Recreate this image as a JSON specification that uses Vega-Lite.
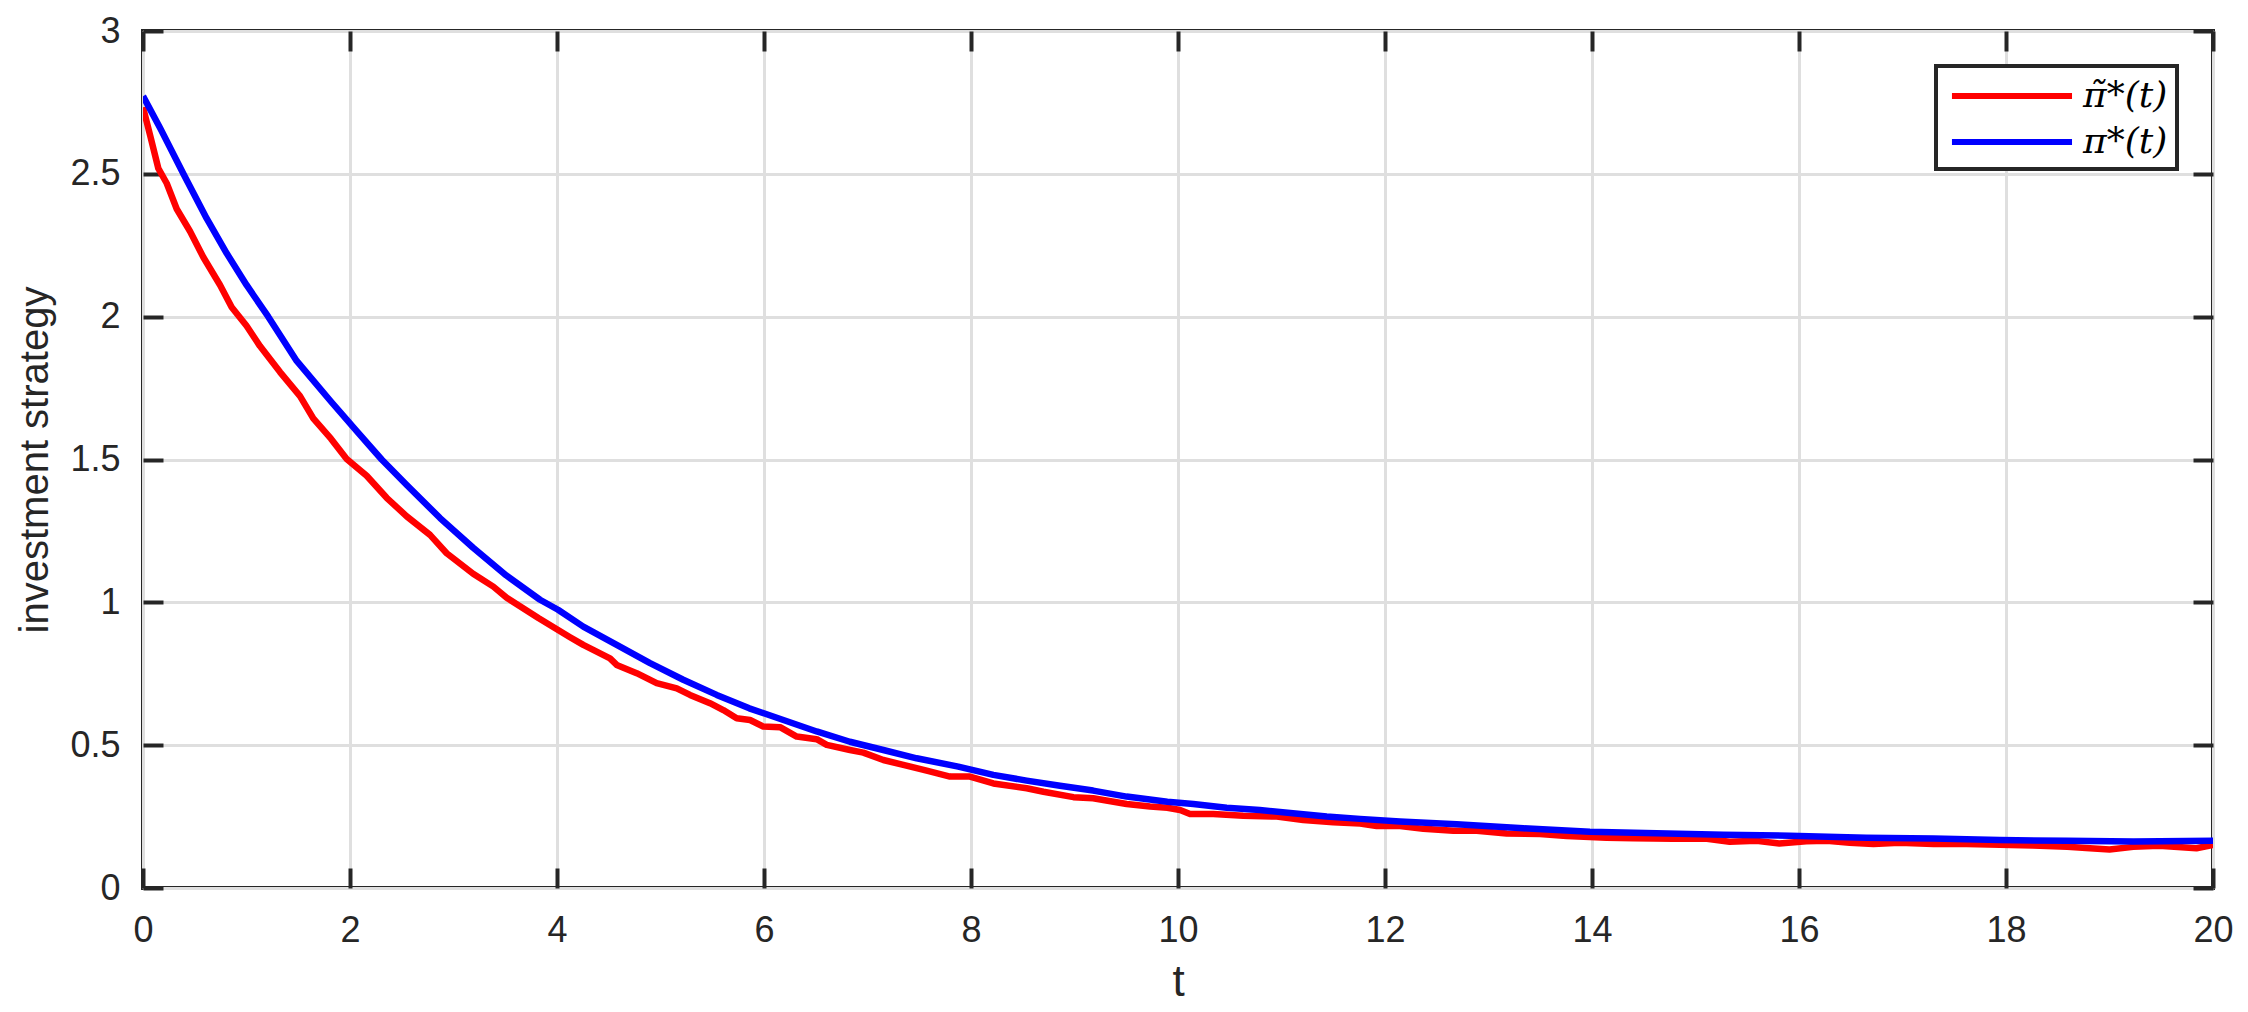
{
  "$schema": "https://vega.github.io/schema/vega-lite/v6.json",
  "width": 2070,
  "height": 857,
  "autosize": {"type": "none"},
  "padding": {"left": 143, "top": 31, "right": 35, "bottom": 124},
  "background": "white",
  "config": {
    "view": {"stroke": "#262626", "strokeWidth": 4},
    "axis": {
      "domain": false,
      "labelFont": "Liberation Sans",
      "titleFont": "Liberation Sans",
      "labelColor": "#262626",
      "titleColor": "#262626",
      "tickColor": "#262626",
      "tickWidth": 4,
      "tickSize": -20,
      "gridColor": "#dfdfdf",
      "gridWidth": 3,
      "gridOpacity": 1,
      "labelFontSize": 36,
      "titleFontSize": 40,
      "titleFontWeight": "normal",
      "labelFlush": false,
      "labelOverlap": false
    },
    "legend": {"strokeWidth": 4}
  },
  "datasets": {
    "d": [
      {"s": "π̃*(t)", "t": 0, "v": 2.733},
      {"s": "π̃*(t)", "t": 0.068, "v": 2.636},
      {"s": "π̃*(t)", "t": 0.148, "v": 2.519},
      {"s": "π̃*(t)", "t": 0.229, "v": 2.467},
      {"s": "π̃*(t)", "t": 0.326, "v": 2.377},
      {"s": "π̃*(t)", "t": 0.454, "v": 2.299},
      {"s": "π̃*(t)", "t": 0.583, "v": 2.208},
      {"s": "π̃*(t)", "t": 0.744, "v": 2.111},
      {"s": "π̃*(t)", "t": 0.857, "v": 2.033},
      {"s": "π̃*(t)", "t": 1.0, "v": 1.968},
      {"s": "π̃*(t)", "t": 1.13, "v": 1.897},
      {"s": "π̃*(t)", "t": 1.324, "v": 1.806},
      {"s": "π̃*(t)", "t": 1.517, "v": 1.722},
      {"s": "π̃*(t)", "t": 1.645, "v": 1.644},
      {"s": "π̃*(t)", "t": 1.816, "v": 1.573},
      {"s": "π̃*(t)", "t": 1.968, "v": 1.502},
      {"s": "π̃*(t)", "t": 2.161, "v": 1.443},
      {"s": "π̃*(t)", "t": 2.354, "v": 1.366},
      {"s": "π̃*(t)", "t": 2.548, "v": 1.301},
      {"s": "π̃*(t)", "t": 2.773, "v": 1.236},
      {"s": "π̃*(t)", "t": 2.934, "v": 1.172},
      {"s": "π̃*(t)", "t": 3.19, "v": 1.1},
      {"s": "π̃*(t)", "t": 3.385, "v": 1.055},
      {"s": "π̃*(t)", "t": 3.514, "v": 1.016},
      {"s": "π̃*(t)", "t": 3.82, "v": 0.945},
      {"s": "π̃*(t)", "t": 4.126, "v": 0.878},
      {"s": "π̃*(t)", "t": 4.254, "v": 0.851},
      {"s": "π̃*(t)", "t": 4.512, "v": 0.804},
      {"s": "π̃*(t)", "t": 4.577, "v": 0.781},
      {"s": "π̃*(t)", "t": 4.77, "v": 0.752},
      {"s": "π̃*(t)", "t": 4.963, "v": 0.717},
      {"s": "π̃*(t)", "t": 5.157, "v": 0.699},
      {"s": "π̃*(t)", "t": 5.285, "v": 0.676},
      {"s": "π̃*(t)", "t": 5.478, "v": 0.647},
      {"s": "π̃*(t)", "t": 5.607, "v": 0.623},
      {"s": "π̃*(t)", "t": 5.736, "v": 0.594},
      {"s": "π̃*(t)", "t": 5.865, "v": 0.588},
      {"s": "π̃*(t)", "t": 5.993, "v": 0.565},
      {"s": "π̃*(t)", "t": 6.155, "v": 0.563},
      {"s": "π̃*(t)", "t": 6.316, "v": 0.53},
      {"s": "π̃*(t)", "t": 6.509, "v": 0.521},
      {"s": "π̃*(t)", "t": 6.606, "v": 0.501},
      {"s": "π̃*(t)", "t": 6.831, "v": 0.483},
      {"s": "π̃*(t)", "t": 6.96, "v": 0.474},
      {"s": "π̃*(t)", "t": 7.153, "v": 0.448},
      {"s": "π̃*(t)", "t": 7.346, "v": 0.431},
      {"s": "π̃*(t)", "t": 7.572, "v": 0.411},
      {"s": "π̃*(t)", "t": 7.797, "v": 0.39},
      {"s": "π̃*(t)", "t": 7.99, "v": 0.39},
      {"s": "π̃*(t)", "t": 8.216, "v": 0.366},
      {"s": "π̃*(t)", "t": 8.538, "v": 0.349},
      {"s": "π̃*(t)", "t": 8.7, "v": 0.337},
      {"s": "π̃*(t)", "t": 8.99, "v": 0.318},
      {"s": "π̃*(t)", "t": 9.18, "v": 0.314},
      {"s": "π̃*(t)", "t": 9.504, "v": 0.294},
      {"s": "π̃*(t)", "t": 9.73, "v": 0.285},
      {"s": "π̃*(t)", "t": 9.897, "v": 0.281},
      {"s": "π̃*(t)", "t": 10.02, "v": 0.273},
      {"s": "π̃*(t)", "t": 10.116, "v": 0.259},
      {"s": "π̃*(t)", "t": 10.34, "v": 0.259},
      {"s": "π̃*(t)", "t": 10.63, "v": 0.253},
      {"s": "π̃*(t)", "t": 10.954, "v": 0.25},
      {"s": "π̃*(t)", "t": 11.21, "v": 0.238},
      {"s": "π̃*(t)", "t": 11.5, "v": 0.23},
      {"s": "π̃*(t)", "t": 11.76, "v": 0.226},
      {"s": "π̃*(t)", "t": 11.92, "v": 0.217},
      {"s": "π̃*(t)", "t": 12.145, "v": 0.217},
      {"s": "π̃*(t)", "t": 12.37, "v": 0.207},
      {"s": "π̃*(t)", "t": 12.66, "v": 0.2},
      {"s": "π̃*(t)", "t": 12.886, "v": 0.2},
      {"s": "π̃*(t)", "t": 13.176, "v": 0.191},
      {"s": "π̃*(t)", "t": 13.497, "v": 0.189},
      {"s": "π̃*(t)", "t": 13.755, "v": 0.182},
      {"s": "π̃*(t)", "t": 14.14, "v": 0.176},
      {"s": "π̃*(t)", "t": 14.4, "v": 0.174},
      {"s": "π̃*(t)", "t": 14.785, "v": 0.172},
      {"s": "π̃*(t)", "t": 15.11, "v": 0.172},
      {"s": "π̃*(t)", "t": 15.33, "v": 0.162},
      {"s": "π̃*(t)", "t": 15.59, "v": 0.165},
      {"s": "π̃*(t)", "t": 15.81, "v": 0.156},
      {"s": "π̃*(t)", "t": 16.07, "v": 0.164},
      {"s": "π̃*(t)", "t": 16.27, "v": 0.165},
      {"s": "π̃*(t)", "t": 16.49, "v": 0.158},
      {"s": "π̃*(t)", "t": 16.72, "v": 0.154},
      {"s": "π̃*(t)", "t": 16.97, "v": 0.158},
      {"s": "π̃*(t)", "t": 17.3, "v": 0.154},
      {"s": "π̃*(t)", "t": 17.62, "v": 0.154},
      {"s": "π̃*(t)", "t": 17.94, "v": 0.151},
      {"s": "π̃*(t)", "t": 18.26, "v": 0.149},
      {"s": "π̃*(t)", "t": 18.59, "v": 0.144},
      {"s": "π̃*(t)", "t": 18.81, "v": 0.139},
      {"s": "π̃*(t)", "t": 19.0, "v": 0.135},
      {"s": "π̃*(t)", "t": 19.23, "v": 0.144},
      {"s": "π̃*(t)", "t": 19.48, "v": 0.148},
      {"s": "π̃*(t)", "t": 19.84, "v": 0.139},
      {"s": "π̃*(t)", "t": 20, "v": 0.151},
      {"s": "π*(t)", "t": 0, "v": 2.772},
      {"s": "π*(t)", "t": 0.164, "v": 2.661},
      {"s": "π*(t)", "t": 0.39, "v": 2.5},
      {"s": "π*(t)", "t": 0.615, "v": 2.344},
      {"s": "π*(t)", "t": 0.81, "v": 2.221},
      {"s": "π*(t)", "t": 1.0, "v": 2.111},
      {"s": "π*(t)", "t": 1.21, "v": 2.0},
      {"s": "π*(t)", "t": 1.485, "v": 1.845},
      {"s": "π*(t)", "t": 1.816, "v": 1.703},
      {"s": "π*(t)", "t": 2.065, "v": 1.599},
      {"s": "π*(t)", "t": 2.306, "v": 1.5},
      {"s": "π*(t)", "t": 2.548, "v": 1.411},
      {"s": "π*(t)", "t": 2.87, "v": 1.295},
      {"s": "π*(t)", "t": 3.19, "v": 1.191},
      {"s": "π*(t)", "t": 3.51, "v": 1.094},
      {"s": "π*(t)", "t": 3.836, "v": 1.009},
      {"s": "π*(t)", "t": 4.01, "v": 0.974},
      {"s": "π*(t)", "t": 4.254, "v": 0.915},
      {"s": "π*(t)", "t": 4.577, "v": 0.851},
      {"s": "π*(t)", "t": 4.899, "v": 0.787},
      {"s": "π*(t)", "t": 5.22, "v": 0.729},
      {"s": "π*(t)", "t": 5.543, "v": 0.676},
      {"s": "π*(t)", "t": 5.858, "v": 0.629},
      {"s": "π*(t)", "t": 6.187, "v": 0.588},
      {"s": "π*(t)", "t": 6.509, "v": 0.548},
      {"s": "π*(t)", "t": 6.83, "v": 0.512},
      {"s": "π*(t)", "t": 7.153, "v": 0.483},
      {"s": "π*(t)", "t": 7.475, "v": 0.454},
      {"s": "π*(t)", "t": 7.877, "v": 0.425},
      {"s": "π*(t)", "t": 8.216, "v": 0.396},
      {"s": "π*(t)", "t": 8.538, "v": 0.376},
      {"s": "π*(t)", "t": 8.86, "v": 0.358},
      {"s": "π*(t)", "t": 9.18, "v": 0.341},
      {"s": "π*(t)", "t": 9.504, "v": 0.32},
      {"s": "π*(t)", "t": 9.897, "v": 0.302},
      {"s": "π*(t)", "t": 10.148, "v": 0.294},
      {"s": "π*(t)", "t": 10.47, "v": 0.281},
      {"s": "π*(t)", "t": 10.79, "v": 0.273},
      {"s": "π*(t)", "t": 11.11, "v": 0.262},
      {"s": "π*(t)", "t": 11.437, "v": 0.25},
      {"s": "π*(t)", "t": 11.76, "v": 0.242},
      {"s": "π*(t)", "t": 12.145, "v": 0.233},
      {"s": "π*(t)", "t": 12.693, "v": 0.223},
      {"s": "π*(t)", "t": 13.336, "v": 0.209},
      {"s": "π*(t)", "t": 13.98, "v": 0.197},
      {"s": "π*(t)", "t": 14.625, "v": 0.192},
      {"s": "π*(t)", "t": 15.27, "v": 0.186},
      {"s": "π*(t)", "t": 15.91, "v": 0.183},
      {"s": "π*(t)", "t": 16.65, "v": 0.176},
      {"s": "π*(t)", "t": 17.3, "v": 0.173},
      {"s": "π*(t)", "t": 17.94, "v": 0.168},
      {"s": "π*(t)", "t": 18.59, "v": 0.165},
      {"s": "π*(t)", "t": 19.23, "v": 0.163},
      {"s": "π*(t)", "t": 20, "v": 0.165}
    ]
  },
  "data": {"name": "d"},
  "layer": [
    {
      "transform": [{"filter": "datum.s === 'π̃*(t)'"}],
      "mark": {"type": "line", "strokeWidth": 6.5, "strokeJoin": "round", "clip": true},
      "encoding": {
        "x": {
          "field": "t", "type": "quantitative",
          "scale": {"domain": [0, 20], "nice": false, "zero": false},
          "axis": {
            "orient": "bottom",
            "values": [0, 2, 4, 6, 8, 10, 12, 14, 16, 18, 20],
            "title": "t",
            "labelPadding": 45,
            "titleX": 1035,
            "titleY": 107,
            "titleAlign": "center",
            "titleBaseline": "alphabetic",
            "titleFontSize": 44
          }
        },
        "y": {
          "field": "v", "type": "quantitative",
          "scale": {"domain": [0, 3], "nice": false, "zero": false},
          "axis": {
            "orient": "left",
            "values": [0, 0.5, 1, 1.5, 2, 2.5, 3],
            "format": ".1~f",
            "title": "investment strategy",
            "labelPadding": 43,
            "titleX": -108,
            "titleY": 428.5,
            "titleAngle": -90,
            "titleAlign": "center",
            "titleBaseline": "middle"
          }
        },
        "color": {
          "field": "s", "type": "nominal",
          "scale": {"domain": ["π̃*(t)", "π*(t)"], "range": ["#ff0000", "#0000ff"]},
          "legend": {
            "orient": "none",
            "legendX": 1793,
            "legendY": 35,
            "title": null,
            "symbolType": "M-0.78,0H5.89",
            "symbolSize": 1296,
            "symbolStrokeWidth": 6,
            "labelFont": "DejaVu Serif",
            "labelFontStyle": "italic",
            "labelFontSize": 36,
            "labelColor": "#000000",
            "labelOffset": 96,
            "strokeColor": "#262626",
            "fillColor": "white",
            "padding": 9,
            "rowPadding": 7
          }
        }
      }
    },
    {
      "transform": [{"filter": "datum.s === 'π*(t)'"}],
      "mark": {"type": "line", "strokeWidth": 6.5, "strokeJoin": "round", "clip": true},
      "encoding": {
        "x": {"field": "t", "type": "quantitative", "axis": null},
        "y": {"field": "v", "type": "quantitative", "axis": null},
        "color": {"field": "s", "type": "nominal"}
      }
    },
    {
      "transform": [{"filter": "datum.s === 'π*(t)'"}],
      "mark": {"type": "line", "opacity": 0},
      "encoding": {
        "x": {
          "field": "t", "type": "quantitative",
          "axis": {"orient": "top", "values": [0, 2, 4, 6, 8, 10, 12, 14, 16, 18, 20], "labels": false, "title": null, "grid": false}
        },
        "y": {
          "field": "v", "type": "quantitative",
          "axis": {"orient": "right", "values": [0, 0.5, 1, 1.5, 2, 2.5, 3], "labels": false, "title": null, "grid": false}
        }
      }
    }
  ],
  "resolve": {"axis": {"x": "independent", "y": "independent"}}
}
